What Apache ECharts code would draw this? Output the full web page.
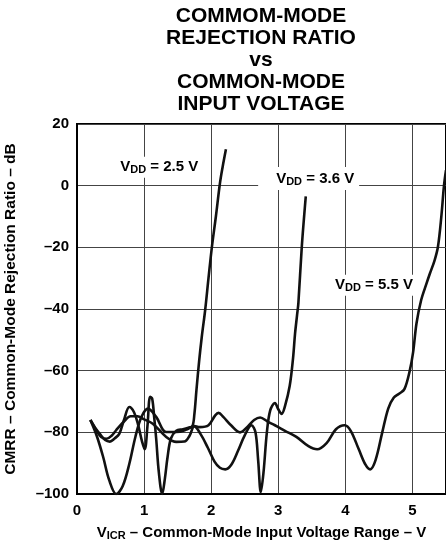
<!DOCTYPE html>
<html>
<head>
<meta charset="utf-8">
<script src="https://cdn.jsdelivr.net/npm/echarts@6/dist/echarts.min.js"></script>
<style>
  html, body { margin: 0; padding: 0; background: #fff; }
  #main { width: 446px; height: 544px; }
</style>
</head>
<body>
<div id="main"></div>
<script>
// CMRR vs common-mode input voltage
var xTicks = [0, 1, 2, 3, 4, 5];
var yTicks = [20, 0, -20, -40, -60, -80, -100];

var v25x = [0.2, 0.27, 0.34, 0.42, 0.49, 0.56, 0.63, 0.7, 0.78, 0.85, 0.91, 0.97, 1.01, 1.05, 1.09, 1.12, 1.15, 1.18, 1.22, 1.27, 1.31, 1.35, 1.4, 1.48, 1.58, 1.66, 1.72, 1.75, 1.78, 1.82, 1.86, 1.91, 1.96, 2.01, 2.07, 2.13, 2.17, 2.22];
var v25y = [-76, -78.5, -80.5, -82.5, -83, -82, -80.5, -76, -71.8, -73.5, -77.5, -83, -85.5, -78, -68.5, -69, -75, -82, -93, -100, -95, -88, -82, -79.5, -79, -78.5, -78, -74, -66.4, -57, -49, -40.4, -30, -20, -10, 0.7, 6, 11.8];

var v36x = [0.2, 0.3, 0.39, 0.48, 0.585, 0.68, 0.78, 0.87, 0.96, 1.06, 1.18, 1.33, 1.48, 1.62, 1.74, 1.84, 1.95, 2.05, 2.13, 2.21, 2.3, 2.4, 2.5, 2.6, 2.66, 2.7, 2.74, 2.78, 2.83, 2.88, 2.95, 3.0, 3.05, 3.1, 3.17, 3.22, 3.25, 3.28, 3.3, 3.35, 3.41];
var v36y = [-76, -81.5, -88, -95.5, -100, -97.5, -90.2, -81.5, -75, -72.3, -75, -79.9, -79.9, -79.2, -78, -80.5, -85, -89.5, -91.5, -92, -90.5, -86, -81, -77.7, -80, -89, -99.4, -93, -80, -72.9, -70.5, -72.5, -74, -71.5, -65, -56, -48, -42, -38, -20, -3.5];

var v55x = [0.2, 0.29, 0.36, 0.44, 0.52, 0.58, 0.7, 0.8, 0.9, 1.0, 1.13, 1.33, 1.48, 1.6, 1.68, 1.75, 1.83, 1.96, 2.06, 2.11, 2.18, 2.3, 2.43, 2.55, 2.64, 2.73, 2.84, 2.95, 3.1, 3.27, 3.45, 3.58, 3.72, 3.86, 3.99, 4.08, 4.2, 4.3, 4.37, 4.45, 4.55, 4.64, 4.72, 4.8, 4.88, 4.96, 5.01, 5.06, 5.13, 5.21, 5.26, 5.33, 5.38, 5.43, 5.47, 5.5];
var v55y = [-76, -79.4, -81.5, -82.1, -81, -79.4, -76.5, -74.8, -74.8, -75.8, -77.2, -81.5, -83.1, -83, -81, -78, -78.3, -77.7, -74.5, -73.7, -75, -77.8, -80, -78, -76, -75.2, -76.5, -77.7, -79.5, -81.5, -84.5, -85.5, -83.5, -79, -77.7, -79.5, -85.5, -90.5, -92, -89, -80, -72.2, -68.8, -67.5, -66, -60, -54, -44.7, -37.1, -31.7, -28.5, -24.2, -19.8, -10.1, 0, 5];

// label anchors in data coords (left edge, vertical centre)
var labels = [
  { text: '2.5', at: [0.6, 6.0], pad: [2, 3, 2, 3] },
  { text: '3.6', at: [2.7, 2.3], pad: [3, 5, 3, 18] },
  { text: '5.5', at: [3.8, -32.3], pad: [2, 3, 2, 3] }
];

function zip(xs, ys) {
  return xs.map(function (x, i) { return [x, ys[i]]; });
}

var font = '"Liberation Sans", Arial, Helvetica, sans-serif';
var myChart = echarts.init(document.getElementById('main'));

function curve(name, data) {
  return {
    name: name,
    type: 'line',
    data: data,
    smooth: 0.35,
    showSymbol: false,
    symbol: 'none',
    lineStyle: { color: '#111', width: 2.6 },
    z: 3
  };
}

var option = {
  animation: false,
  backgroundColor: '#fff',
  title: {
    text: 'COMMOM-MODE\nREJECTION RATIO\nvs\nCOMMON-MODE\nINPUT VOLTAGE',
    left: 256,
    top: 0,
    textAlign: 'center',
    textStyle: {
      fontFamily: font,
      fontWeight: 'bold',
      fontSize: 21,
      lineHeight: 22,
      color: '#000'
    }
  },
  grid: {
    left: 77,
    right: 0,
    top: 124,
    bottom: 50,
    outerBoundsMode: 'none',
    containLabel: false,
    show: true,
    borderColor: '#000',
    borderWidth: 2,
    backgroundColor: 'transparent'
  },
  xAxis: {
    type: 'value',
    min: 0,
    max: 5.5,
    interval: 1,
    name: '{v|V}{s|ICR}{v| – Common-Mode Input Voltage Range – V}',
    nameLocation: 'middle',
    nameGap: 30,
    nameTextStyle: {
      rich: {
        v: { fontFamily: font, fontWeight: 'bold', fontSize: 15, color: '#000' },
        s: { fontFamily: font, fontWeight: 'bold', fontSize: 11, color: '#000', padding: [6, 0, 0, 0] }
      }
    },
    axisLine: { show: true, onZero: false, lineStyle: { color: '#000', width: 2 } },
    axisTick: { show: false },
    splitLine: { show: true, lineStyle: { color: '#444', width: 1 } },
    axisLabel: {
      showMaxLabel: false,
      margin: 9,
      fontFamily: font,
      fontWeight: 'bold',
      fontSize: 15,
      color: '#000',
      formatter: function (v) {
        return xTicks.indexOf(v) >= 0 ? String(v) : '';
      }
    }
  },
  yAxis: {
    type: 'value',
    min: -100,
    max: 20,
    interval: 20,
    name: 'CMRR – Common-Mode Rejection Ratio – dB',
    nameLocation: 'middle',
    nameGap: 58,
    nameTextStyle: {
      fontFamily: font,
      fontWeight: 'bold',
      fontSize: 15.5,
      color: '#000'
    },
    axisLine: { show: true, onZero: false, lineStyle: { color: '#000', width: 2 } },
    axisTick: { show: false },
    splitLine: { show: true, lineStyle: { color: '#444', width: 1 } },
    axisLabel: {
      margin: 8,
      fontFamily: font,
      fontWeight: 'bold',
      fontSize: 15,
      color: '#000',
      formatter: function (v) {
        if (yTicks.indexOf(v) < 0) return '';
        return v < 0 ? '–' + Math.abs(v) : String(v);
      }
    }
  },
  series: [
    curve('2.5 V', zip(v25x, v25y)),
    curve('3.6 V', zip(v36x, v36y)),
    curve('5.5 V', zip(v55x, v55y))
  ]
};
myChart.setOption(option);

// V_DD labels, placed through the chart's own coordinate system
var graphics = labels.map(function (l) {
  var p = myChart.convertToPixel({ gridIndex: 0 }, l.at);
  return {
    type: 'text',
    x: p[0],
    y: p[1],
    z: 10,
    style: {
      text: '{v|V}{s|DD}{v| = ' + l.text + ' V}',
      verticalAlign: 'middle',
      align: 'left',
      backgroundColor: '#fff',
      padding: l.pad,
      rich: {
        v: { fontFamily: font, fontWeight: 'bold', fontSize: 15, fill: '#000' },
        s: { fontFamily: font, fontWeight: 'bold', fontSize: 11, fill: '#000', padding: [6, 0, 0, 0] }
      }
    }
  };
});
myChart.setOption({ graphic: graphics });
</script>
</body>
</html>
